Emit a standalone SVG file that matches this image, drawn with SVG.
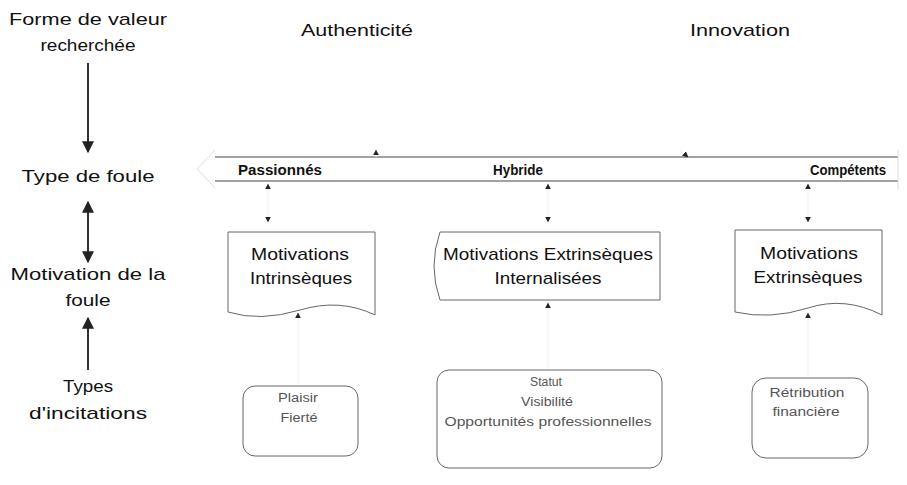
<svg xmlns="http://www.w3.org/2000/svg" width="907" height="485" viewBox="0 0 907 485">
<style>
text{font-family:"Liberation Sans",Arial,sans-serif;fill:#111;text-anchor:middle}
.lbl{font-size:17px}
.bold{font-size:14px;font-weight:bold}
.mot{font-size:17px}
.inc{font-size:12px;fill:#555}
.box{fill:none;stroke:#666;stroke-width:1}
.faint{stroke:#eee;stroke-width:1;fill:none}
.axis{stroke:#333;stroke-width:2;fill:none}
</style>
<defs>
<marker id="ah" viewBox="0 0 10 10" refX="9" refY="5" markerWidth="6" markerHeight="7" orient="auto-start-reverse" markerUnits="userSpaceOnUse">
<path d="M0,0 L10,5 L0,10 Z" fill="#222"/>
</marker>
<marker id="big" viewBox="0 0 10 10" refX="9" refY="5" markerWidth="16" markerHeight="12" orient="auto-start-reverse" markerUnits="userSpaceOnUse">
<path d="M0,0 L10,5 L0,10 Z" fill="#222"/>
</marker>
</defs>
<g id="headers">
<text class="lbl" x="88" y="25" textLength="158" lengthAdjust="spacingAndGlyphs">Forme de valeur</text>
<text class="lbl" x="88" y="51" textLength="95" lengthAdjust="spacingAndGlyphs">recherchée</text>
<text class="lbl" x="88" y="182" textLength="133" lengthAdjust="spacingAndGlyphs">Type de foule</text>
<text class="lbl" x="88" y="280" textLength="155" lengthAdjust="spacingAndGlyphs">Motivation de la</text>
<text class="lbl" x="88" y="306" textLength="45" lengthAdjust="spacingAndGlyphs">foule</text>
<text class="lbl" x="88" y="392" textLength="50" lengthAdjust="spacingAndGlyphs">Types</text>
<text class="lbl" x="88" y="419" textLength="118" lengthAdjust="spacingAndGlyphs">d'incitations</text>
<text class="lbl" x="357" y="36" textLength="112" lengthAdjust="spacingAndGlyphs">Authenticité</text>
<text class="lbl" x="740" y="36" textLength="100" lengthAdjust="spacingAndGlyphs">Innovation</text>
</g>
<g id="band">
<path class="faint" style="stroke:#ddd" d="M215,150 L197,169 L215,188"/>
<line x1="215" y1="157" x2="898" y2="157" stroke="#444" stroke-width="1.2"/>
<line x1="215" y1="181" x2="898" y2="181" stroke="#444" stroke-width="1.2"/>
<line class="faint" style="stroke:#ddd" x1="898" y1="150" x2="898" y2="190"/>
<text class="bold" x="280" y="175" textLength="84" lengthAdjust="spacingAndGlyphs">Passionnés</text>
<text class="bold" x="518" y="175" textLength="50" lengthAdjust="spacingAndGlyphs">Hybride</text>
<text class="bold" x="848" y="175" textLength="76" lengthAdjust="spacingAndGlyphs">Compétents</text>
</g>
<g id="mot-intr">
<path class="box" d="M228,232 L375,232 L375,315 Q340,298 300,310 Q260,322 228,312 Z"/>
<text class="mot" x="300" y="260" textLength="98" lengthAdjust="spacingAndGlyphs">Motivations</text>
<text class="mot" x="301" y="284" textLength="102" lengthAdjust="spacingAndGlyphs">Intrinsèques</text>
</g>
<g id="mot-ext-int">
<path class="box" d="M440,232 L660,232 L660,300 L440,300 Q428,266 440,232 Z"/>
<text class="mot" x="548" y="260" textLength="210" lengthAdjust="spacingAndGlyphs">Motivations Extrinsèques</text>
<text class="mot" x="548" y="284" textLength="107" lengthAdjust="spacingAndGlyphs">Internalisées</text>
</g>
<g id="mot-ext">
<path class="box" d="M735,230 L882,230 L882,315 Q845,296 808,308 Q770,320 735,312 Z"/>
<text class="mot" x="809" y="259" textLength="98" lengthAdjust="spacingAndGlyphs">Motivations</text>
<text class="mot" x="808" y="283" textLength="109" lengthAdjust="spacingAndGlyphs">Extrinsèques</text>
</g>
<g id="inc-auth">
<rect class="box" x="243" y="386" width="115" height="70" rx="12"/>
<text class="inc" x="298" y="402" textLength="40" lengthAdjust="spacingAndGlyphs">Plaisir</text>
<text class="inc" x="299" y="422" textLength="37" lengthAdjust="spacingAndGlyphs">Fierté</text>
</g>
<g id="inc-hyb">
<rect class="box" x="437" y="370" width="225" height="98" rx="12"/>
<text class="inc" x="546" y="386" textLength="32" lengthAdjust="spacingAndGlyphs">Statut</text>
<text class="inc" x="547" y="406" textLength="52" lengthAdjust="spacingAndGlyphs">Visibilité</text>
<text class="inc" x="548" y="426" textLength="207" lengthAdjust="spacingAndGlyphs">Opportunités professionnelles</text>
</g>
<g id="inc-innov">
<rect class="box" x="752" y="378" width="116" height="80" rx="14"/>
<text class="inc" x="807" y="397" textLength="75" lengthAdjust="spacingAndGlyphs">Rétribution</text>
<text class="inc" x="806" y="416" textLength="67" lengthAdjust="spacingAndGlyphs">financière</text>
</g>
<g id="connectors">
<line class="axis" x1="88" y1="63" x2="88" y2="152" marker-end="url(#big)"/>
<line class="axis" x1="88" y1="202" x2="88" y2="262" marker-start="url(#big)" marker-end="url(#big)"/>
<line class="axis" x1="88" y1="370" x2="88" y2="318" marker-end="url(#big)"/>
<line class="faint" x1="376" y1="157" x2="376" y2="150" marker-end="url(#ah)"/>
<line class="faint" x1="680" y1="150" x2="688" y2="157" marker-end="url(#ah)"/>
<line class="faint" x1="268" y1="222" x2="268" y2="184" marker-start="url(#ah)" marker-end="url(#ah)"/>
<line class="faint" x1="548" y1="222" x2="548" y2="184" marker-start="url(#ah)" marker-end="url(#ah)"/>
<line class="faint" x1="808" y1="222" x2="808" y2="184" marker-start="url(#ah)" marker-end="url(#ah)"/>
<line class="faint" x1="298" y1="384" x2="298" y2="313" marker-end="url(#ah)"/>
<line class="faint" x1="548" y1="369" x2="548" y2="303" marker-end="url(#ah)"/>
<line class="faint" x1="808" y1="376" x2="808" y2="313" marker-end="url(#ah)"/>
</g>
</svg>
